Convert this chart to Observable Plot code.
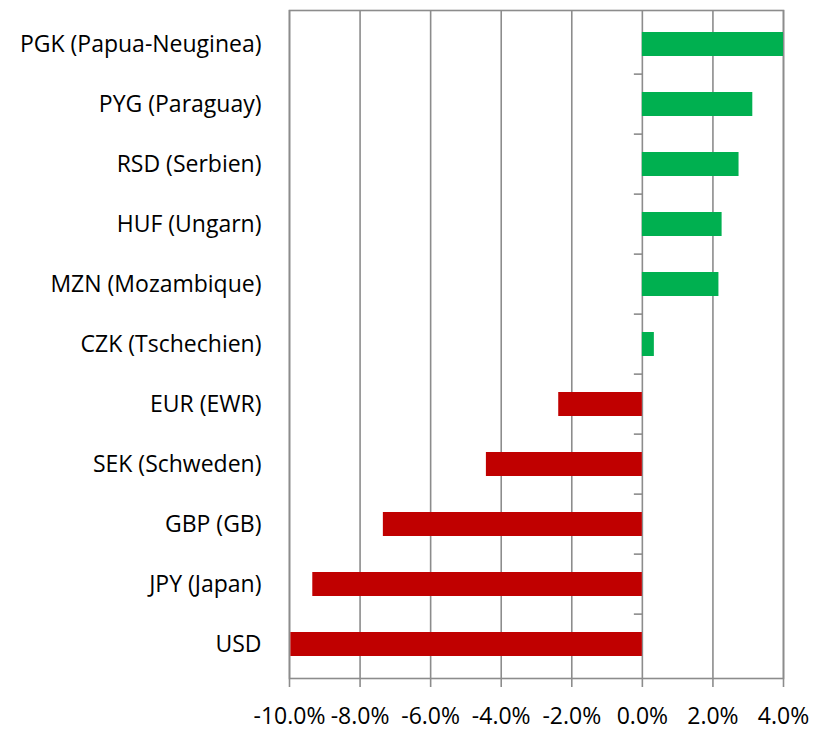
<!DOCTYPE html>
<html>
<head>
<meta charset="utf-8">
<script src="https://cdn.jsdelivr.net/npm/d3@7"></script>
<script src="https://cdn.jsdelivr.net/npm/@observablehq/plot@0.6"></script>
<style>
  html, body { margin: 0; padding: 0; background: #fff; }
</style>
</head>
<body>
<div id="chart"></div>
<script>
const categories = ["PGK (Papua-Neuginea)", "PYG (Paraguay)", "RSD (Serbien)", "HUF (Ungarn)", "MZN (Mozambique)", "CZK (Tschechien)", "EUR (EWR)", "SEK (Schweden)", "GBP (GB)", "JPY (Japan)", "USD"];
const values = [4.0, 3.13, 2.74, 2.26, 2.17, 0.34, -2.37, -4.42, -7.34, -9.34, -9.96];
const xTicks = [-10, -8, -6, -4, -2, 0, 2, 4];

const data = categories.map((c, i) => ({category: c, value: values[i]}));

const W = 821, H = 731;
const mTop = 10, mBottom = 53, mLeft = 289, mRight = 38;
const step = (H - mTop - mBottom) / categories.length;
const grey = "#8c8c8c";

const leftTick = {
  draw(context) {
    context.moveTo(-8.5, 0);
    context.lineTo(0, 0);
  }
};

const chart = Plot.plot({
  width: W,
  height: H,
  marginTop: mTop,
  marginBottom: mBottom,
  marginLeft: mLeft,
  marginRight: mRight,
  style: {fontFamily: "'Open Sans', sans-serif", fontSize: "23px", color: "#000", background: "#fff"},
  x: {domain: [-10, 4]},
  y: {domain: categories, paddingInner: 0.6, paddingOuter: 0.3},
  marks: [
    Plot.ruleX(xTicks, {stroke: grey, strokeWidth: 1.6}),
    Plot.frame({stroke: grey, strokeWidth: 1.6}),
    Plot.dot(categories.slice(1), {x: () => 0, y: d => d, symbol: leftTick, stroke: grey, strokeWidth: 1.6, fill: "none", dy: -step / 2}),
    Plot.barX(data.filter(d => d.value >= 0), {x: "value", y: "category", fill: "#00B050"}),
    Plot.barX(data.filter(d => d.value < 0), {x: "value", y: "category", fill: "#C00000"}),
    Plot.axisX(xTicks, {anchor: "bottom", tickSize: 9, tickPadding: 20, stroke: grey, strokeWidth: 1.6, tickFormat: d => d.toFixed(1) + "%", fontSize: 23, fill: "#000", label: null}),
    Plot.axisY({anchor: "left", tickSize: 0, tickPadding: 28, fontSize: 23, fill: "#000", label: null})
  ]
});

document.getElementById("chart").appendChild(chart);
</script>
</body>
</html>
